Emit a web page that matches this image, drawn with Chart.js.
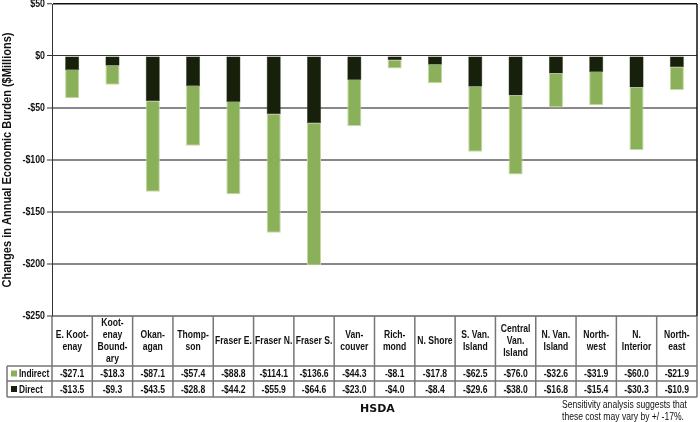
<!DOCTYPE html>
<html>
<head>
<meta charset="utf-8">
<script src="https://cdn.jsdelivr.net/npm/chart.js@4"></script>
<style>
  html, body { margin: 0; padding: 0; background: #fff; }
  #wrap { width: 700px; height: 422px; position: relative; }
</style>
</head>
<body>
<div id="wrap"><canvas id="burdenChart"></canvas></div>
<script>
const categories = [
    ["E. Koot-", "enay"], ["Koot-", "enay", "Bound-", "ary"], ["Okan-", "agan"], ["Thomp-", "son"],
    ["Fraser E."], ["Fraser N."], ["Fraser S."], ["Van-", "couver"], ["Rich-", "mond"], ["N. Shore"],
    ["S. Van.", "Island"], ["Central", "Van.", "Island"], ["N. Van.", "Island"], ["North-", "west"],
    ["N.", "Interior"], ["North-", "east"]
];
const indirect = [-27.1, -18.3, -87.1, -57.4, -88.8, -114.1, -136.6, -44.3, -8.1, -17.8, -62.5, -76.0, -32.6, -31.9, -60.0, -21.9];
const direct = [-13.5, -9.3, -43.5, -28.8, -44.2, -55.9, -64.6, -23.0, -4.0, -8.4, -29.6, -38.0, -16.8, -15.4, -30.3, -10.9];
const yTitle = "Changes in Annual Economic Burden ($Millions)";
const noteLines = ["Sensitivity analysis suggests that", "these cost may vary by +/ -17%."];

const FONT = '"Liberation Sans", Arial, sans-serif';
const NARROW = 0.78;   // squeeze Liberation Sans into a narrow face
const GREEN = "#8bb05a";
const DARK = "#17200a";

function money(v) {
    return (v < 0 ? "-$" : "$") + Math.abs(v).toFixed(1);
}

// text squeezed horizontally around its anchor point
function narrowText(ctx, text, x, y, align, sx) {
    ctx.save();
    ctx.translate(x, y);
    ctx.scale(sx, 1);
    ctx.textAlign = align;
    ctx.fillText(text, 0, 0);
    ctx.restore();
}

// y tick labels, axis title, data table and note
const tablePlugin = {
    id: "dataTable",
    afterDraw(chart) {
        const ctx = chart.ctx;
        const area = chart.chartArea;
        const x = chart.scales.x;
        const y = chart.scales.y;
        const colW = (area.right - area.left) / categories.length;
        const top = area.bottom;
        const headBottom = top + 50;
        const row1 = headBottom + 15;
        const row2 = row1 + 16;
        const leftEdge = 7;

        ctx.save();
        // right frame of the plot
        ctx.strokeStyle = "#111";
        ctx.lineWidth = 1.5;
        ctx.beginPath();
        ctx.moveTo(area.right, area.top);
        ctx.lineTo(area.right, area.bottom);
        ctx.stroke();

        ctx.strokeStyle = "#777";
        ctx.lineWidth = 1.5;
        ctx.beginPath();
        for (let i = 0; i <= categories.length; i++) {
            const cx = area.left + i * colW;
            ctx.moveTo(cx, top);
            ctx.lineTo(cx, row2);
        }
        ctx.moveTo(leftEdge, headBottom);
        ctx.lineTo(leftEdge, row2);
        [headBottom, row1, row2].forEach(yy => {
            ctx.moveTo(leftEdge, yy);
            ctx.lineTo(area.right, yy);
        });
        ctx.stroke();

        ctx.fillStyle = "#111";
        ctx.textBaseline = "middle";

        // y tick labels
        ctx.font = "bold 11px " + FONT;
        y.ticks.forEach(t => {
            const lbl = (t.value < 0 ? "-$" : "$") + Math.abs(t.value);
            narrowText(ctx, lbl, area.left - 7, y.getPixelForValue(t.value), "right", 0.8);
        });

        // axis title
        ctx.font = "bold 12.5px " + FONT;
        const tw = ctx.measureText(yTitle).width;
        ctx.save();
        ctx.translate(8, (area.top + area.bottom) / 2);
        ctx.rotate(-Math.PI / 2);
        narrowText(ctx, yTitle, 0, 0, "center", 255 / tw);
        ctx.restore();

        // table cells
        ctx.font = "bold 11px " + FONT;
        categories.forEach((lines, i) => {
            const cx = x.getPixelForValue(i);
            const lh = 11.7;
            const start = (top + headBottom) / 2 - (lines.length - 1) * lh / 2;
            lines.forEach((t, j) => narrowText(ctx, t, cx, start + j * lh, "center", NARROW));
            narrowText(ctx, money(indirect[i]), cx, (headBottom + row1) / 2 + 0.5, "center", NARROW);
            narrowText(ctx, money(direct[i]), cx, (row1 + row2) / 2 + 0.5, "center", NARROW);
        });

        // legend keys in the row label cells
        ctx.fillStyle = GREEN;
        ctx.fillRect(11, (headBottom + row1) / 2 - 3, 6, 6);
        ctx.fillStyle = DARK;
        ctx.fillRect(11, (row1 + row2) / 2 - 3, 6, 6);
        ctx.fillStyle = "#111";
        narrowText(ctx, "Indirect", 19, (headBottom + row1) / 2 + 0.5, "left", 0.76);
        narrowText(ctx, "Direct", 19, (row1 + row2) / 2 + 0.5, "left", 0.76);

        ctx.font = "bold 11px 'DejaVu Sans', sans-serif";
        ctx.textAlign = "center";
        ctx.fillText("HSDA", (area.left + area.right) / 2 + 3, row2 + 12);

        ctx.font = "10px " + FONT;
        const nw = ctx.measureText(noteLines[0]).width;
        noteLines.forEach((t, j) => narrowText(ctx, t, 562, row2 + 8.5 + j * 11.5, "left", 125 / nw));
        ctx.restore();
    }
};

new Chart(document.getElementById("burdenChart"), {
    type: "bar",
    data: {
        labels: categories.map(c => c.join(" ")),
        datasets: [
            {
                label: "Direct",
                data: direct,
                backgroundColor: DARK,
                borderColor: "#2e3a1a",
                borderWidth: 0.5
            },
            {
                label: "Indirect",
                data: indirect,
                backgroundColor: GREEN,
                borderColor: "#c4daa0",
                borderWidth: 1
            }
        ]
    },
    options: {
        responsive: true,
        maintainAspectRatio: false,
        animation: false,
        layout: { padding: { top: 4, right: 3, bottom: 106, left: 0 } },
        datasets: { bar: { barPercentage: 0.35, categoryPercentage: 1 } },
        plugins: {
            legend: { display: false },
            tooltip: { enabled: false }
        },
        scales: {
            x: {
                stacked: true,
                display: false
            },
            y: {
                stacked: true,
                min: -250,
                max: 50,
                afterFit(scale) {
                    scale.width = 52;
                    scale.paddingTop = 0;
                    scale.paddingBottom = 0;
                },
                ticks: { stepSize: 50, display: false },
                grid: {
                    color: c => c.tick.value === 0 ? "#333" : (c.tick.value === 50 ? "#111" : "#888"),
                    lineWidth: c => c.tick.value === 0 ? 1 : (c.tick.value === 50 ? 1.5 : 2),
                    tickColor: "#333",
                    tickLength: 5,
                    tickWidth: 1
                },
                border: { display: true, color: "#333", width: 1 }
            }
        }
    },
    plugins: [tablePlugin]
});
</script>
</body>
</html>
